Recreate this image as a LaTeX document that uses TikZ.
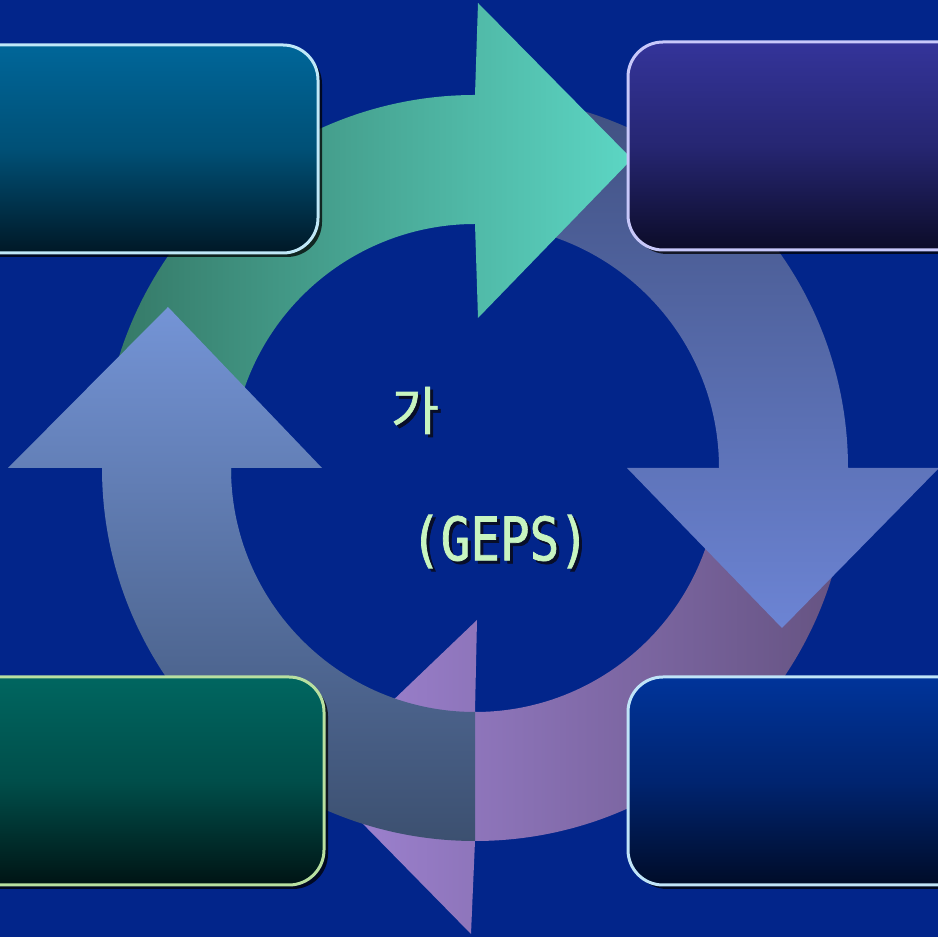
\documentclass[tikz,border=0pt]{standalone}
\usepackage{fontspec}
\newfontfamily\krfont[FakeBold=1.2]{Noto Sans CJK KR}
\newfontfamily\gepsfont[FakeStretch=0.82,FakeBold=1.2]{DejaVu Sans Mono}
\usetikzlibrary{shadows}

\definecolor{bg}{RGB}{2,37,138}
\definecolor{txtgreen}{RGB}{200,245,192}
\definecolor{txtshadow}{RGB}{8,14,40}
\definecolor{tealA}{RGB}{52,118,100}
\definecolor{tealB}{RGB}{92,214,196}
\definecolor{slateA}{RGB}{64,80,128}
\definecolor{slateB}{RGB}{108,132,212}
\definecolor{lilacA}{RGB}{160,132,212}
\definecolor{lilacB}{RGB}{100,82,128}
\definecolor{greyA}{RGB}{60,80,112}
\definecolor{greyB}{RGB}{116,148,214}

% text with a dark drop shadow
\newcommand{\shadowed}[1]{\makebox[0pt][l]{\hspace{3pt}\raisebox{-3pt}{\color{txtshadow}#1}}#1}

\begin{document}
\begin{tikzpicture}[x=1pt,y=1pt,
  panel/.style={draw, line width=3pt, rectangle, rounded corners=35pt,
    minimum width=360pt, minimum height=208pt,
    drop shadow={shadow xshift=4pt, shadow yshift=-4pt, fill=black, opacity=0.75}},
  caption/.style={text=txtgreen, inner sep=0pt}]
  \fill[bg] (0,0) rectangle (938,937);
  \clip (0,0) rectangle (938,937);

  % ring of four arrows, centre of the ring at (475,469)
  \begin{scope}[shift={(475,469)}]
    \shade[left color=lilacA, right color=lilacB] (0:373) arc[start angle=0, end angle=-90, radius=373]
      -- (-4,-466) -- (-160,-307) -- (2,-152) -- (0,-244) arc[start angle=-90, end angle=0, radius=244] -- cycle;
    \shade[top color=slateA, bottom color=slateB] (90:373) arc[start angle=90, end angle=0, radius=373]
      -- (464,0) -- (307,-160) -- (152,0) -- (244,0) arc[start angle=0, end angle=90, radius=244] -- cycle;
    \shade[left color=tealA, right color=tealB] (182:373) arc[start angle=182, end angle=90, radius=373]
      -- (3,465) -- (157,309) -- (3,150) -- (0,244) arc[start angle=90, end angle=182, radius=244] -- cycle;
    \shade[bottom color=greyA, top color=greyB] (270:373) arc[start angle=270, end angle=180, radius=373]
      -- (-467,0) -- (-307,161) -- (-153,0) -- (-244,0) arc[start angle=180, end angle=270, radius=244] -- cycle;
  \end{scope}

  % corner panels
  \node[panel, draw={rgb,255:red,192;green,232;blue,248}, top color={rgb,255:red,0;green,102;blue,153},
    bottom color={rgb,255:red,0;green,24;blue,38}, middle color={rgb,255:red,0;green,80;blue,118}] (tlbox) at (138,788) {};
  \node[panel, draw={rgb,255:red,200;green,200;blue,250}, top color={rgb,255:red,52;green,52;blue,154},
    bottom color={rgb,255:red,12;green,12;blue,40}, middle color={rgb,255:red,38;green,38;blue,114}] (trbox) at (808,791) {};
  \node[panel, draw={rgb,255:red,184;green,224;blue,160}, top color={rgb,255:red,0;green,102;blue,96},
    bottom color={rgb,255:red,0;green,20;blue,20}, middle color={rgb,255:red,0;green,78;blue,74}] (blbox) at (144,156) {};
  \node[panel, draw={rgb,255:red,192;green,228;blue,248}, top color={rgb,255:red,0;green,52;blue,154},
    bottom color={rgb,255:red,0;green,12;blue,40}, middle color={rgb,255:red,0;green,36;blue,112}] (brbox) at (808,156) {};

  % centre text
  \node[caption] (ka) at (415,525) {\krfont\fontsize{52}{52}\selectfont\shadowed{가}};
  \node[caption] (geps) at (500,394) {\gepsfont\fontsize{60}{60}\selectfont\shadowed{(GEPS)}};
\end{tikzpicture}
\end{document}
